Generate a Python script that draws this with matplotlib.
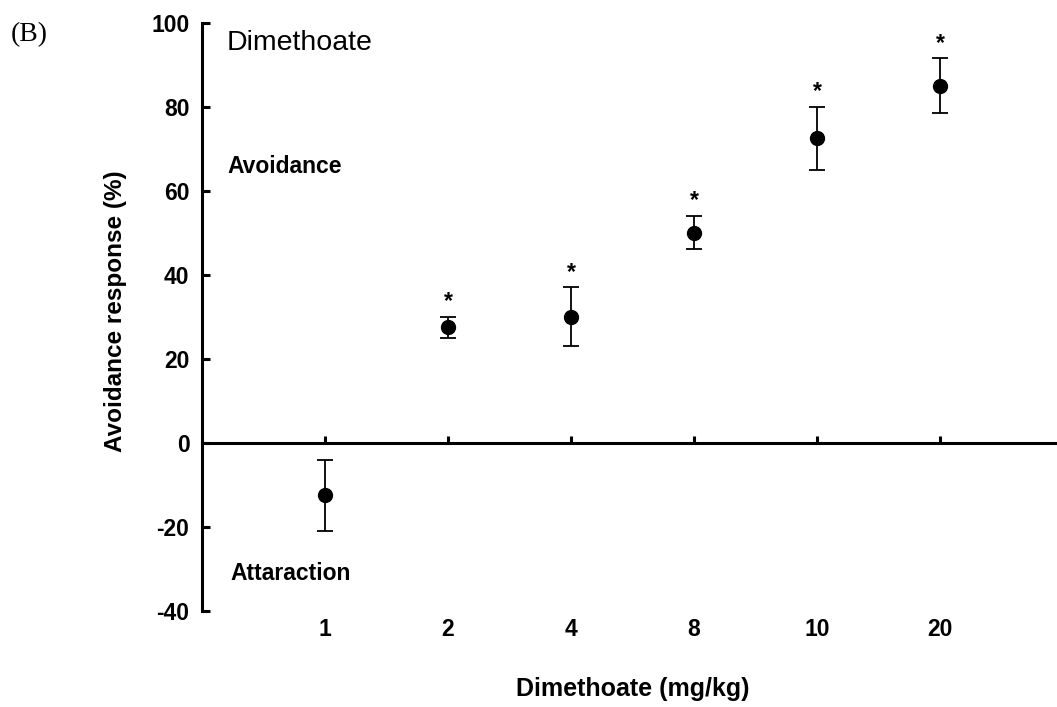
"""
Resposta de evitacao ao dimetoato: media +- erro por dose, com asteriscos
nas doses com diferenca significativa.
"""
import matplotlib.pyplot as plt

doses = ["1", "2", "4", "8", "10", "20"]
avoidance = [-12.5, 27.5, 30.0, 50.0, 72.5, 85.0]
err = [8.5, 2.5, 7.0, 4.0, 7.5, 6.5]
significant = [False, True, True, True, True, True]

plt.rcParams["font.family"] = ["Liberation Sans", "DejaVu Sans"]
plt.rcParams["axes.unicode_minus"] = False


def main() -> None:
    fig = plt.figure(figsize=(10.57, 7.07), dpi=100)
    ax = fig.add_axes([0.1911, 0.1362, 0.8089, 0.8317])

    x = list(range(len(doses)))
    ax.errorbar(x, avoidance, yerr=err, fmt="o", color="black", ms=10,
                elinewidth=1.3, capsize=5.5, capthick=1.3, zorder=3)

    # asteriscos logo acima da barra de erro
    for xi, m, e, sig in zip(x, avoidance, err, significant):
        if sig:
            ax.text(xi, m + e + 2.0, "*", ha="center", va="baseline",
                    fontsize=16.5, fontweight="bold")

    ax.set_xlim(-1, 5.95)
    ax.set_ylim(-40, 100)
    ax.set_yticks([-40, -20, 0, 20, 40, 60, 80, 100])
    ax.set_xticks(x, doses)

    for s in ["top", "right"]:
        ax.spines[s].set_visible(False)
    ax.spines["left"].set_linewidth(2.2)
    ax.spines["bottom"].set_linewidth(2.2)
    ax.spines["bottom"].set_position(("data", 0))

    ax.tick_params(axis="y", direction="in", length=6, width=2.2, pad=9,
                   labelsize=16.5)
    ax.tick_params(axis="x", direction="in", length=5, width=2.2, pad=126,
                   labelsize=16.5)
    for lbl in ax.get_xticklabels() + ax.get_yticklabels():
        lbl.set_fontweight("bold")

    ax.text(-0.797, 93.6, "Dimethoate", fontsize=20.5, va="baseline")
    ax.text(-0.795, 64.3, "Avoidance", fontsize=16.5, fontweight="bold",
            va="baseline")
    ax.text(-0.77, -32.6, "Attaraction", fontsize=16.5, fontweight="bold",
            va="baseline")

    ax.set_ylabel("Avoidance response (%)", fontsize=17.5, fontweight="bold")
    ax.yaxis.set_label_coords(-0.088, 0.509)
    ax.set_xlabel("Dimethoate (mg/kg)", fontsize=18, fontweight="bold")
    ax.xaxis.set_label_coords(0.504, -0.113)

    fig.text(0.0275, 0.951, "(B)", fontsize=20, family=["Liberation Serif"],
             ha="center", va="center")

    fig.savefig("out.png", dpi=100)
    plt.close(fig)


if __name__ == "__main__":
    main()
